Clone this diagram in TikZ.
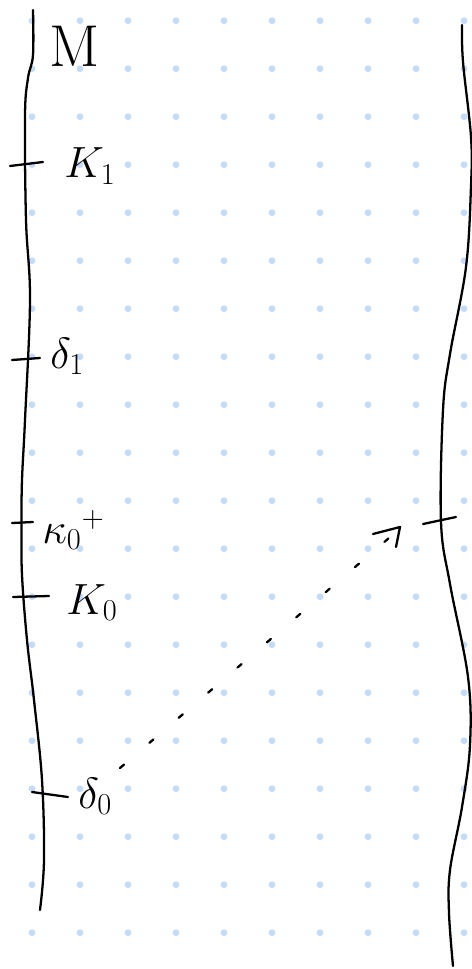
\documentclass[tikz,border=0pt]{standalone}
\definecolor{dotblue}{RGB}{196,218,250}
\begin{document}
\begin{tikzpicture}[x=0.02cm,y=-0.02cm,
  pen/.style={line width=1.3pt,line cap=round,line join=round},
  griddot/.style={fill=dotblue},
  lbl/.style={inner sep=0pt,anchor=base west,font=\fontsize{24}{28}\selectfont}]
\useasboundingbox (0,0) rectangle (472,969);
\fill[white] (0,0) rectangle (472,969);
% dot grid
\foreach \i in {0,...,9}{
  \foreach \j in {0,...,19}{
    \fill[griddot] ({32+48*\i},{20.7+48*\j}) circle (3.4);
  }
}
% left boundary of M
\draw[pen] plot[smooth,tension=0.6] coordinates {(33,10) (33,55) (28,78) (25,115) (26,220) (30,300) (25,420) (22,480) (21.5,525) (22,575) (27,640) (34,700) (42,780) (44,860) (40,910)};
% right boundary
\draw[pen] plot[smooth,tension=0.6] coordinates {(462,25) (463,62) (471,137) (471,186) (466,267) (450,354) (443,410) (441,522) (450,584) (468,677) (470,745) (462,807) (450,870) (449,913) (453,966)};
% ticks
\draw[pen] (10,166) -- (43,162);
\draw[pen] (12,360) -- (40,358);
\draw[pen] (12,523) -- (33,522);
\draw[pen] (13,597) -- (49,596);
\draw[pen] (32,792) -- (68,797);
\draw[pen] (423,524) -- (456,517);
% labels
\node[inner sep=0pt,scale=1.4,font=\fontsize{24}{28}\selectfont] (M) at (75,46) {M};
\node[lbl] (k1) at (64,178) {$K_1$};
\node[lbl] (d1) at (50,368) {$\delta_1$};
\node[lbl] (k0p) at (42,543) {$\kappa_0{}^{+}$};
\node[lbl] (k0) at (66,614) {$K_0$};
\node[lbl] (d0) at (78,808) {$\delta_0$};
% dotted arrow
\coordinate (s) at (120,768);
\coordinate (t) at (396,532);
\draw[pen,dash pattern=on 3pt off 19pt] (s) -- (t);
\draw[pen] (373,534) -- (400,527) -- (396,547);
\end{tikzpicture}
\end{document}
